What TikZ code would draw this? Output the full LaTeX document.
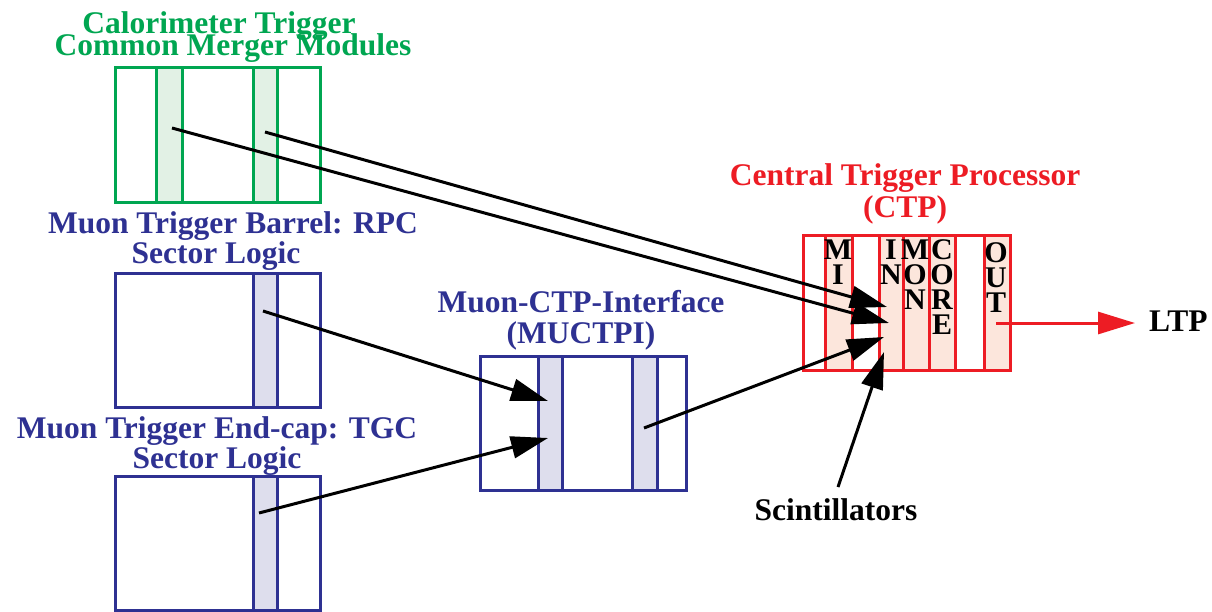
\documentclass[tikz,border=0pt]{standalone}
\usepackage{fontspec}
\setmainfont{Liberation Serif}
\usetikzlibrary{arrows.meta}
\definecolor{cgreen}{HTML}{00A651}
\definecolor{cgreenf}{HTML}{E2F1E5}
\definecolor{cblue}{HTML}{2E3192}
\definecolor{cbluef}{HTML}{DEDEED}
\definecolor{cred}{HTML}{ED1C24}
\definecolor{credf}{HTML}{FCE6DC}
\newcommand\mytightlines{\lineskiplimit=-50pt\relax}
\begin{document}
\begin{tikzpicture}[x=1pt,y=-1pt,
  lbl/.style={inner sep=0pt, align=center, anchor=north,
    font={\fontsize{31.5}{#1}\selectfont\bfseries\mytightlines}},
  frame/.style={draw, line width=3pt, inner sep=0pt, anchor=north west},
  letters/.style={inner sep=0pt, align=center, anchor=north,
    font={\fontsize{30}{25}\selectfont\bfseries\mytightlines}},
  conn/.style={line width=3pt, -{Triangle[length=37pt,width=22pt]}}
]
\useasboundingbox (0,0) rectangle (1212,611);
\fill[white] (0,0) rectangle (1212,611);

% ---------- Calorimeter CMM ----------
\node[frame, cgreen, minimum width=205pt, minimum height=135pt] (cmm) at (114,66) {};
\node[frame, cgreen, fill=cgreenf, minimum width=26pt, minimum height=135pt] (cmmA) at (155,66) {};
\node[frame, cgreen, fill=cgreenf, minimum width=24pt, minimum height=135pt] (cmmB) at (252,66) {};
\node[lbl=22.5, text=cgreen] (cmmlbl) at (233,9)
  {\rule{0pt}{24pt}Calorimeter Trigger\hspace*{28pt}\\Common Merger Modules};

% ---------- RPC ----------
\node[frame, cblue, minimum width=205pt, minimum height=134pt] (rpc) at (114,272) {};
\node[frame, cblue, fill=cbluef, minimum width=24pt, minimum height=134pt] (rpcA) at (252,272) {};
\node[lbl=30, text=cblue] (rpclbl) at (216,209)
  {\rule{0pt}{24pt}\hspace*{34pt}Muon Trigger Barrel: RPC\\Sector Logic};

% ---------- TGC ----------
\node[frame, cblue, minimum width=205pt, minimum height=134pt] (tgc) at (114,475) {};
\node[frame, cblue, fill=cbluef, minimum width=24pt, minimum height=134pt] (tgcA) at (252,475) {};
\node[lbl=30, text=cblue] (tgclbl) at (217,414)
  {\rule{0pt}{24pt}Muon Trigger End-cap: TGC\\Sector Logic};

% ---------- MUCTPI ----------
\node[frame, cblue, minimum width=206pt, minimum height=134pt] (mu) at (479,355) {};
\node[frame, cblue, fill=cbluef, minimum width=24pt, minimum height=134pt] (muA) at (537,355) {};
\node[frame, cblue, fill=cbluef, minimum width=25pt, minimum height=134pt] (muB) at (631,355) {};
\node[lbl=31, text=cblue] (mulbl) at (581,288)
  {\rule{0pt}{24pt}Muon-CTP-Interface\\(MUCTPI)};

% ---------- CTP ----------
\node[frame, cred, minimum width=207pt, minimum height=135pt] (ctp) at (802,234) {};
\node[frame, cred, fill=credf, minimum width=27pt, minimum height=135pt] (colMI) at (824,234) {};
\node[frame, cred, minimum width=27pt, minimum height=135pt] (colX) at (851,234) {};
\node[frame, cred, fill=credf, minimum width=24pt, minimum height=135pt] (colIN) at (878,234) {};
\node[frame, cred, fill=credf, minimum width=26pt, minimum height=135pt] (colMON) at (902,234) {};
\node[frame, cred, fill=credf, minimum width=26pt, minimum height=135pt] (colCORE) at (928,234) {};
\node[frame, cred, minimum width=29pt, minimum height=135pt] (colY) at (954,234) {};
\node[frame, cred, fill=credf, minimum width=26pt, minimum height=135pt] (colOUT) at (983,234) {};
\node[lbl=32, text=cred] (ctplbl) at (905,161)
  {\rule{0pt}{24pt}Central Trigger Processor\\(CTP)};

\node[letters] (tMI) at (838,237) {\rule{0pt}{22pt}M\\I};
\node[letters] (tIN) at (891,237) {\rule{0pt}{22pt}I\\N};
\node[letters] (tMON) at (915,237) {\rule{0pt}{22pt}M\\O\\N};
\node[letters] (tCORE) at (942,237) {\rule{0pt}{22pt}C\\O\\R\\E};
\node[letters] (tOUT) at (996,240) {\rule{0pt}{22pt}O\\U\\T};

% ---------- other labels ----------
\node[inner sep=0pt, anchor=base west, font=\fontsize{31.5}{32}\selectfont\bfseries] (ltp) at (1149,331) {LTP};
\node[inner sep=0pt, anchor=base, font=\fontsize{31.5}{32}\selectfont\bfseries] (scint) at (836,520) {Scintillators};

% ---------- connector end points ----------
\coordinate (g1) at (172,128);
\coordinate (g2) at (265,132);
\coordinate (r1) at (263,311);
\coordinate (t1) at (259,513);
\coordinate (m1) at (548,401);
\coordinate (m2) at (548,438);
\coordinate (m3) at (644,428);
\coordinate (c1) at (887,307);
\coordinate (c2) at (889,323);
\coordinate (c3) at (884,337);
\coordinate (c4) at (884,352);
\coordinate (s1) at (838,487);
\coordinate (o1) at (996,323);
\coordinate (ltpin) at (1135,323);

% ---------- connectors ----------
\draw[conn] (g2) -- (c1);
\draw[conn] (g1) -- (c2);
\draw[conn] (r1) -- (m1);
\draw[conn] (t1) -- (m2);
\draw[conn] (m3) -- (c3);
\draw[conn] (s1) -- (c4);
\draw[conn, cred] (o1) -- (ltpin);
\end{tikzpicture}
\end{document}
